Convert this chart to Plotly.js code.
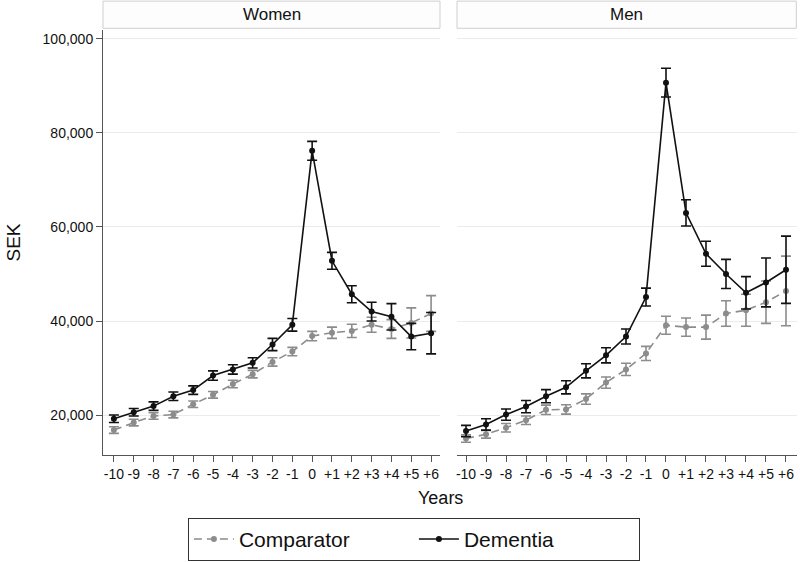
<!DOCTYPE html>
<html>
<head>
<meta charset="utf-8">
<script src="https://cdn.plot.ly/plotly-3.0.1.min.js"></script>
<style>html,body{margin:0;padding:0;background:#fff;}#chart{width:800px;height:562px;}</style>
</head>
<body>
<div id="chart"></div>
<script>
var years = [-10,-9,-8,-7,-6,-5,-4,-3,-2,-1,0,1,2,3,4,5,6];
var yearLabels = ["-10","-9","-8","-7","-6","-5","-4","-3","-2","-1","0","+1","+2","+3","+4","+5","+6"];

var womenComparator = [16800,18400,19800,20100,22300,24300,26600,28700,31300,33500,36800,37500,37900,39200,38300,39600,41600];
var womenComparatorErr = [700,700,700,700,700,700,800,800,900,900,1000,1200,1400,1600,2000,3200,3800];
var womenDementia = [19200,20600,21900,24000,25300,28400,29700,31100,35000,39200,76200,52800,45700,42000,40900,36700,37400];
var womenDementiaErr = [800,800,900,900,900,1000,1000,1100,1300,1350,2000,1800,1800,2000,2800,2800,4400];

var menComparator = [15000,15900,17300,18900,21100,21200,23400,26900,29700,33100,39100,38700,38700,41600,42300,44000,46400];
var menComparatorErr = [800,800,900,900,1000,1000,1100,1200,1300,1500,1900,1950,2550,2700,3400,4500,7400];
var menDementia = [16600,18000,20100,21800,24000,25900,29400,32700,36700,45100,90700,63000,54300,50000,46000,48200,50900];
var menDementiaErr = [1200,1200,1200,1300,1400,1400,1500,1600,1600,1900,3050,2800,2650,3100,3450,5200,7150];

var grayC = '#8c8c8c';
var blackC = '#111111';
var sans = 'Liberation Sans, Arial, sans-serif';

function trace(x, y, err, name, color, dash, xa, ya, show) {
  return {
    type: 'scatter', mode: 'lines+markers', x: x, y: y, name: name,
    xaxis: xa, yaxis: ya, showlegend: show, legendgroup: name,
    line: {color: color, width: 1.6, dash: dash},
    marker: {color: color, size: 6, symbol: 'circle'},
    error_y: {type: 'data', array: err, visible: true, color: color, thickness: 1.6, width: 5}
  };
}

var data = [
  trace(years, womenComparator, womenComparatorErr, 'Comparator', grayC, '8px,5px', 'x', 'y', true),
  trace(years, womenDementia, womenDementiaErr, 'Dementia', blackC, 'solid', 'x', 'y', true),
  trace(years, menComparator, menComparatorErr, 'Comparator', grayC, '8px,5px', 'x2', 'y2', false),
  trace(years, menDementia, menDementiaErr, 'Dementia', blackC, 'solid', 'x2', 'y2', false)
];

var xaxisBase = {
  range: [-10.55, 6.45], tickmode: 'array', tickvals: years, ticktext: yearLabels,
  ticks: 'outside', ticklen: 6, tickcolor: '#555', tickwidth: 1,
  showline: true, linecolor: '#555', linewidth: 1, showgrid: false, zeroline: false,
  tickfont: {family: sans, size: 14, color: '#111'}
};
var yRange = [11500, 101900];

var layout = {
  width: 800, height: 562,
  margin: {l: 103, r: 3, t: 30, b: 107, autoexpand: false},
  paper_bgcolor: '#fff', plot_bgcolor: '#fff',
  font: {family: sans, color: '#111'},
  xaxis: Object.assign({}, xaxisBase, {domain: [0, 0.4856], anchor: 'y'}),
  xaxis2: Object.assign({}, xaxisBase, {domain: [0.5101, 1], anchor: 'y2', range: [-10.45, 6.55]}),
  yaxis: {
    domain: [0, 1], range: yRange, anchor: 'x',
    tickvals: [20000, 40000, 60000, 80000, 100000], tickformat: ',d',
    ticks: 'outside', ticklen: 6, tickcolor: '#555',
    showline: true, linecolor: '#555', linewidth: 1,
    showgrid: true, gridcolor: '#ebebeb', gridwidth: 1, zeroline: false,
    tickfont: {size: 14, color: '#111'},
    title: {text: 'SEK', font: {size: 19, color: '#111'}, standoff: 16}
  },
  yaxis2: {
    domain: [0, 1], range: yRange, anchor: 'x2', matches: 'y',
    tickvals: [20000, 40000, 60000, 80000, 100000],
    showticklabels: false, ticks: '', showline: false,
    showgrid: true, gridcolor: '#ebebeb', gridwidth: 1, zeroline: false
  },
  shapes: [
    {type: 'rect', xref: 'paper', yref: 'paper', x0: 0, x1: 0.4856, y0: 1.004, y1: 1.068,
     line: {color: '#cfcfcf', width: 1}, fillcolor: '#fdfdfd'},
    {type: 'rect', xref: 'paper', yref: 'paper', x0: 0.5101, x1: 0.999, y0: 1.004, y1: 1.068,
     line: {color: '#cfcfcf', width: 1}, fillcolor: '#fdfdfd'}
  ],
  annotations: [
    {text: 'Women', xref: 'paper', yref: 'paper', x: 0.2428, y: 1.036, showarrow: false,
     xanchor: 'center', yanchor: 'middle', font: {size: 17, color: '#111'}},
    {text: 'Men', xref: 'paper', yref: 'paper', x: 0.755, y: 1.036, showarrow: false,
     xanchor: 'center', yanchor: 'middle', font: {size: 17, color: '#111'}},
    {text: 'Years', xref: 'paper', yref: 'paper', x: 0.486, y: -0.1, showarrow: false,
     xanchor: 'center', yanchor: 'middle', font: {size: 18, color: '#111'}}
  ],
  legend: {
    orientation: 'h', x: 0.448, xanchor: 'center', y: -0.148, yanchor: 'top',
    bordercolor: '#333', borderwidth: 1, bgcolor: '#fff',
    font: {size: 21, color: '#111'}, entrywidth: 170, itemwidth: 40,
    traceorder: 'normal'
  }
};

Plotly.newPlot('chart', data, layout, {displayModeBar: false, staticPlot: true});
</script>
</body>
</html>
